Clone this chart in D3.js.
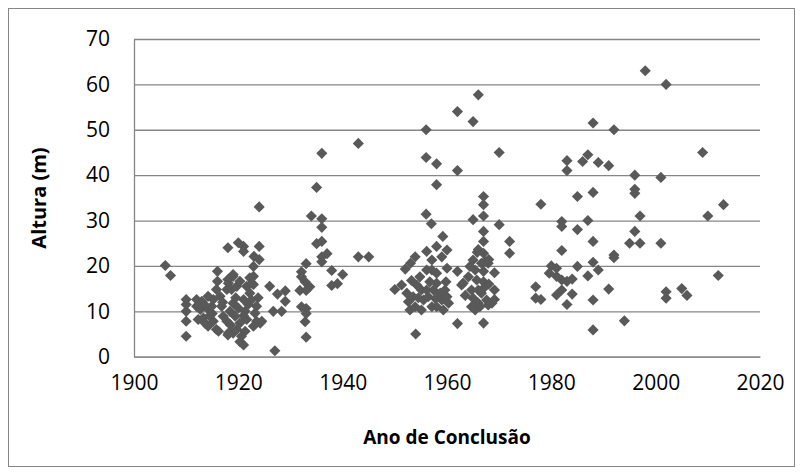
<!DOCTYPE html>
<html>
<head>
<meta charset="utf-8">
<script src="https://cdn.jsdelivr.net/npm/d3@7"></script>
<style>
  body { margin: 0; background: #fff; }
  text { font-family: "Open Sans", sans-serif; fill: #000; }
</style>
</head>
<body>
<div id="viz"></div>
<script>
"use strict";

var w = 803;
var h = 474;

// year of completion / height (m)
var years = [
  1906, 1907, 1910, 1910, 1910, 1910, 1910,
  1912, 1912, 1912.3, 1913, 1912.7, 1913.3, 1913.6, 1914.2, 1914.2, 1914, 1914.9,
  1915.2, 1915.2, 1915.8, 1915.8, 1916.2, 1916, 1916, 1916.5, 1916.8, 1917.1, 1917.8, 1917.8,
  1918.1, 1918.1, 1918, 1918, 1918, 1919, 1919, 1918.7, 1919.7, 1918.4, 1919, 1919.4, 1919, 1919.7,
  1920, 1920.3, 1920.3, 1920.6, 1920.3, 1921, 1920, 1921, 1921, 1921, 1921.3, 1921.3, 1921.6, 1921.6,
  1921.9, 1922.2, 1922.2, 1922.6, 1922.9, 1922.9, 1922.9, 1922.9, 1923, 1923.2, 1923.5, 1923.5,
  1924, 1924, 1924, 1924.2, 1924.5,
  1913.5, 1915, 1917, 1919.5, 1921, 1922.5, 1914.5, 1918.5, 1923.8,
  1926, 1926.7, 1927.5, 1929, 1929, 1928.3, 1927,
  1931.8, 1932.1, 1932.1, 1932.8, 1933.7, 1933, 1933, 1932.1, 1933, 1933, 1932.8, 1933,
  1934, 1935, 1936, 1936, 1936, 1935, 1936, 1937, 1936, 1936, 1937.9, 1940, 1937.9, 1939,
  1943, 1943, 1945,
  1950, 1951.3, 1952, 1953, 1953.9, 1952.3, 1952.6, 1952.9, 1953.9, 1953.5, 1954.2, 1954.8,
  1955.1, 1955.5, 1955.1, 1956.1, 1956.7, 1956.4, 1957.1, 1957.4, 1958, 1958.7, 1959, 1959.6,
  1960.3, 1960, 1958, 1959.3, 1956.1, 1957.1, 1958, 1959, 1960, 1958, 1956.1, 1957.1, 1960,
  1959.2, 1956, 1957, 1956, 1956, 1958, 1958, 1962, 1962, 1962, 1962.8, 1962, 1954,
  1954.5, 1957.8, 1953.2, 1959.8,
  1966, 1965, 1970, 1967, 1967, 1967, 1965, 1970, 1967, 1967, 1966, 1967, 1972, 1972,
  1963.1, 1964.1, 1964.4, 1965, 1965.4, 1964.7, 1965, 1964.7, 1965.7, 1966, 1966, 1966.3,
  1966.6, 1967.3, 1967.9, 1967, 1967, 1967.6, 1967.9, 1968.6, 1969.1, 1969.1, 1969.1,
  1966.6, 1967.3, 1965.4, 1967, 1968, 1963.5, 1968, 1965.8,
  1977, 1977, 1978, 1978, 1979.6, 1980, 1981, 1981, 1981, 1982, 1982, 1982, 1982, 1982,
  1983, 1983, 1983, 1983, 1984, 1984, 1985, 1985, 1985, 1986, 1987, 1987, 1987,
  1988, 1988, 1988, 1988, 1988, 1988, 1989, 1989, 1991, 1991, 1992, 1992, 1992, 1994, 1995,
  1996, 1996, 1996, 1996, 1997, 1997, 1998, 2001, 2001, 2002, 2002, 2002, 2005, 2006,
  2009, 2010, 2012, 2013
];

var heights = [
  20.1, 17.9, 12.6, 11.5, 10.0, 7.8, 4.5,
  12.6, 11.1, 8.2, 12.2, 10.4, 8.5, 7.4, 6.7, 13.3, 10.7, 11.1,
  7.8, 12.6, 14.8, 6.0, 5.6, 16.6, 18.8, 13.3, 11.1, 8.9, 7.8, 14.8,
  5.2, 16.2, 4.8, 24.0, 17.0, 18.1, 17.7, 14.8, 15.5, 10.0, 11.8, 8.9, 5.2, 6.0,
  10.7, 7.4, 16.6, 4.5, 3.3, 2.6, 25.1, 24.3, 23.2, 12.6, 10.0, 5.6, 8.2, 15.5,
  11.5, 14.0, 17.4, 16.2, 17.7, 19.9, 6.7, 15.9, 22.1, 9.6, 11.1, 7.8,
  24.3, 21.4, 33.0, 7.4, 7.8,
  11.5, 9.5, 12.0, 13.0, 9.0, 12.5, 9.0, 7.0, 13.0,
  15.5, 10.0, 13.8, 14.5, 12.2, 10.0, 1.3,
  14.6, 18.7, 17.6, 16.5, 15.4, 14.6, 20.5, 11.0, 10.6, 9.5, 7.7, 4.3,
  31.0, 37.3, 44.8, 30.4, 28.5, 24.9, 25.4, 22.7, 22.0, 20.9, 19.0, 18.1, 15.7, 16.1,
  47.0, 22.0, 22.0,
  14.8, 15.8, 19.3, 20.6, 22.0, 14.0, 12.1, 10.3, 11.0, 13.2, 15.8, 17.6,
  14.7, 12.5, 10.3, 14.7, 16.5, 13.2, 11.0, 14.7, 16.2, 14.0, 12.5, 14.7,
  11.8, 13.2, 11.0, 10.3, 19.1, 19.1, 18.4, 22.0, 23.5, 24.3, 23.2, 21.3, 19.5,
  26.5, 31.4, 29.3, 50.0, 43.9, 42.5, 37.9, 54.0, 41.0, 18.8, 15.8, 7.3, 5.0,
  13.0, 12.8, 16.8, 16.5,
  57.7, 51.8, 45.0, 35.3, 33.5, 31.0, 30.2, 29.1, 27.6, 25.4, 23.6, 22.8, 25.4, 22.8,
  16.2, 17.6, 19.9, 21.3, 19.1, 14.7, 12.9, 11.0, 16.9, 14.7, 11.8, 11.0,
  20.6, 21.0, 20.6, 18.8, 16.5, 12.5, 11.4, 11.8, 14.7, 12.6, 18.5,
  14.0, 15.4, 10.3, 7.4, 21.4, 13.5, 16.0, 23.0,
  15.4, 12.9, 12.6, 33.6, 18.4, 20.0, 19.5, 17.7, 13.6, 16.9, 14.7, 29.8, 28.7, 23.4,
  43.2, 41.0, 16.6, 11.5, 17.1, 13.8, 35.3, 28.0, 19.9, 43.0, 44.5, 30.0, 17.8,
  51.5, 36.2, 25.4, 20.8, 12.5, 5.9, 42.8, 19.1, 42.1, 14.9, 50.0, 22.4, 21.8, 7.9, 25.0,
  40.0, 36.9, 36.0, 27.6, 31.0, 25.0, 63.0, 39.5, 25.0, 60.0, 14.3, 12.9, 15.0, 13.5,
  45.0, 31.0, 17.9, 33.5
];

var xTicks = [1900, 1920, 1940, 1960, 1980, 2000, 2020];
var yTicks = [0, 10, 20, 30, 40, 50, 60, 70];

var points = years.map(function(y, i) { return { year: y, height: heights[i] }; });

var svg = d3.select("#viz")
  .append("svg")
  .attr("width", w)
  .attr("height", h)

// chart border
svg.append("rect")
  .attr("x", 8.5)
  .attr("y", 8.5)
  .attr("width", 786)
  .attr("height", 458)
  .attr("fill", "none")
  .attr("stroke", "#868686")
  .attr("stroke-width", 1)

var x = d3.scaleLinear()
  .domain([1900, 2020])
  .range([134, 760])

var y = d3.scaleLinear()
  .domain([0, 70])
  .range([356.7, 39])

// gridlines
svg.append("g")
  .attr("transform", "translate(134,0)")
  .call(d3.axisLeft(y).tickValues(yTicks).tickSize(-(760 - 134)).tickFormat(""))
  .call(function(g) {
    g.select(".domain").remove();
    g.selectAll(".tick line").attr("stroke", "#868686").attr("stroke-width", 1.3);
  })

// y axis
svg.append("g")
  .attr("transform", "translate(134,0)")
  .call(d3.axisLeft(y).tickValues(yTicks).tickSize(0).tickPadding(24))
  .call(function(g) {
    g.select(".domain").attr("stroke", "#868686").attr("stroke-width", 1.3);
    g.selectAll("text").style("font-size", "21px").attr("fill", "#000");
  })

// x axis
svg.append("g")
  .attr("transform", "translate(0," + y(0) + ")")
  .call(d3.axisBottom(x).tickValues(xTicks).tickFormat(d3.format("d")).tickSize(0).tickPadding(18))
  .call(function(g) {
    g.select(".domain").attr("stroke", "#868686").attr("stroke-width", 1.3);
    g.selectAll("text").style("font-size", "21px").attr("fill", "#000");
  })

// axis titles
svg.append("text")
  .attr("x", 447)
  .attr("y", 444)
  .attr("text-anchor", "middle")
  .style("font-size", "19px")
  .style("font-weight", "bold")
  .text("Ano de Conclusão")

svg.append("text")
  .attr("transform", "translate(46,198) rotate(-90)")
  .attr("text-anchor", "middle")
  .style("font-size", "20px")
  .style("font-weight", "bold")
  .text("Altura (m)")

// markers
var diamond = d3.symbol().type(d3.symbolSquare).size(62);

svg.append("g")
  .selectAll("path.marker")
  .data(points).enter()
  .append("path")
  .classed("marker", true)
  .attr("d", diamond)
  .attr("fill", "#595959")
  .attr("transform", function(d) {
    return "translate(" + x(d.year) + "," + y(d.height) + ") rotate(45)";
  });
</script>
</body>
</html>
